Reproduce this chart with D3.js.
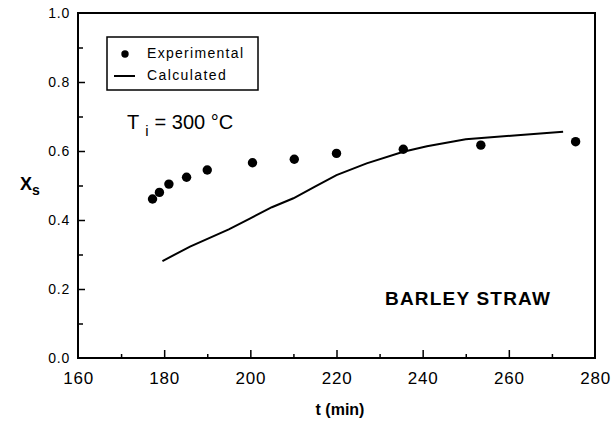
<!DOCTYPE html>
<html>
<head>
<meta charset="utf-8">
<script src="https://cdn.jsdelivr.net/npm/d3@7"></script>
<style>
  body { margin: 0; background: #fff; }
  svg { font-family: "Liberation Sans", Arial, sans-serif; }
  .tick text { fill: #000; }
</style>
</head>
<body>
<div id="chart"></div>
<script>
// experimental points (t in min, Xs)
var expTime = [177.3, 178.9, 181.1, 185.2, 190.0, 200.5, 210.2, 220.0, 235.5, 253.5, 275.5];
var expXs   = [0.461, 0.480, 0.504, 0.524, 0.545, 0.566, 0.576, 0.593, 0.605, 0.617, 0.627];

// calculated curve
var calcTime = [179.6, 186, 195, 200, 205, 210, 215, 220, 227, 235.5, 241, 250, 262, 272.6];
var calcXs   = [0.281, 0.323, 0.373, 0.405, 0.437, 0.463, 0.497, 0.530, 0.564, 0.598, 0.614, 0.634, 0.646, 0.656];

var xTicks = [160, 180, 200, 220, 240, 260, 280];
var yTicks = [0.0, 0.2, 0.4, 0.6, 0.8, 1.0];

var svgWidth = 612, svgHeight = 429;
var margin = { top: 13, right: 17, bottom: 71, left: 78 };
var width = svgWidth - margin.left - margin.right;
var height = svgHeight - margin.top - margin.bottom;

var svg = d3.select("#chart")
    .append("svg")
    .attr("width", svgWidth)
    .attr("height", svgHeight);

var chartGroup = svg.append("g")
    .attr("transform", `translate(${margin.left}, ${margin.top})`);

// scales
var xScale = d3.scaleLinear().domain([160, 280]).range([0, width]);
var yScale = d3.scaleLinear().domain([0, 1]).range([height, 0]);

// minor ticks (inside)
chartGroup.append("g")
    .attr("transform", `translate(0, ${height})`)
    .call(d3.axisTop(xScale).tickValues(d3.range(170, 280, 20)).tickSize(4).tickFormat(""))
    .call(g => g.select(".domain").remove());
chartGroup.append("g")
    .call(d3.axisRight(yScale).tickValues([0.1, 0.3, 0.5, 0.7, 0.9]).tickSize(5).tickFormat(""))
    .call(g => g.select(".domain").remove());

// major ticks (inside)
chartGroup.append("g")
    .attr("transform", `translate(0, ${height})`)
    .call(d3.axisTop(xScale).tickValues(xTicks.slice(1, -1)).tickSize(8).tickFormat(""))
    .call(g => g.select(".domain").remove());
chartGroup.append("g")
    .call(d3.axisRight(yScale).tickValues(yTicks.slice(1, -1)).tickSize(7).tickFormat(""))
    .call(g => g.select(".domain").remove());

chartGroup.selectAll(".tick line").attr("stroke", "#000").attr("stroke-width", 1.5);

// tick labels
var bottomAxis = chartGroup.append("g")
    .attr("transform", `translate(0, ${height})`)
    .call(d3.axisBottom(xScale).tickValues(xTicks).tickSize(0).tickPadding(14).tickFormat(d3.format("d")));
bottomAxis.select(".domain").remove();
bottomAxis.selectAll("text").attr("font-size", "17px").attr("letter-spacing", "0.8px");

var leftAxis = chartGroup.append("g")
    .call(d3.axisLeft(yScale).tickValues(yTicks).tickSize(0).tickPadding(8).tickFormat(d3.format(".1f")));
leftAxis.select(".domain").remove();
leftAxis.selectAll("text").attr("font-size", "14px").attr("letter-spacing", "0.8px");

// frame
chartGroup.append("rect")
    .attr("x", 0).attr("y", 0)
    .attr("width", width).attr("height", height)
    .attr("fill", "none")
    .attr("stroke", "#000")
    .attr("stroke-width", 2);

// calculated line
var line = d3.line()
    .x((d, i) => xScale(calcTime[i]))
    .y(d => yScale(d));

chartGroup.append("path")
    .datum(calcXs)
    .attr("d", line)
    .attr("fill", "none")
    .attr("stroke", "#000")
    .attr("stroke-width", 2);

// experimental points
chartGroup.selectAll(".expPoint")
    .data(expXs)
    .enter()
    .append("circle")
    .attr("class", "expPoint")
    .attr("cx", (d, i) => xScale(expTime[i]))
    .attr("cy", d => yScale(d))
    .attr("r", 4.7)
    .attr("fill", "#000");

// legend
var legend = svg.append("g");
legend.append("rect")
    .attr("x", 107).attr("y", 37)
    .attr("width", 151).attr("height", 53)
    .attr("fill", "#fff")
    .attr("stroke", "#000")
    .attr("stroke-width", 1.5);
legend.append("circle")
    .attr("cx", 125).attr("cy", 54).attr("r", 3.7).attr("fill", "#000");
legend.append("text")
    .attr("x", 147).attr("y", 58)
    .attr("font-size", "14px")
    .attr("letter-spacing", "1.3px")
    .text("Experimental");
legend.append("line")
    .attr("x1", 114).attr("x2", 135)
    .attr("y1", 76).attr("y2", 76)
    .attr("stroke", "#000").attr("stroke-width", 2);
legend.append("text")
    .attr("x", 147).attr("y", 80)
    .attr("font-size", "14px")
    .attr("letter-spacing", "1.4px")
    .text("Calculated");

// T_i annotation
var tLabel = svg.append("text")
    .attr("x", 127).attr("y", 129)
    .attr("font-size", "20px");
tLabel.append("tspan").text("T");
tLabel.append("tspan").attr("dx", 6).attr("dy", 7).attr("font-size", "15px").text("i");
tLabel.append("tspan").attr("dx", 6).attr("dy", -7).text("= 300 °C");

// sample label
svg.append("text")
    .attr("x", 385).attr("y", 305)
    .attr("font-size", "19px")
    .attr("font-weight", "bold")
    .attr("letter-spacing", "1.2px")
    .text("BARLEY STRAW");

// axis titles
svg.append("text")
    .attr("x", 340)
    .attr("y", 415)
    .attr("text-anchor", "middle")
    .attr("font-size", "16px")
    .attr("font-weight", "bold")
    .text("t (min)");

var yTitle = svg.append("text")
    .attr("x", 20).attr("y", 190)
    .attr("font-size", "18px")
    .attr("font-weight", "bold");
yTitle.append("tspan").text("X");
yTitle.append("tspan").attr("dy", 5).attr("font-size", "14px").text("s");
</script>
</body>
</html>
